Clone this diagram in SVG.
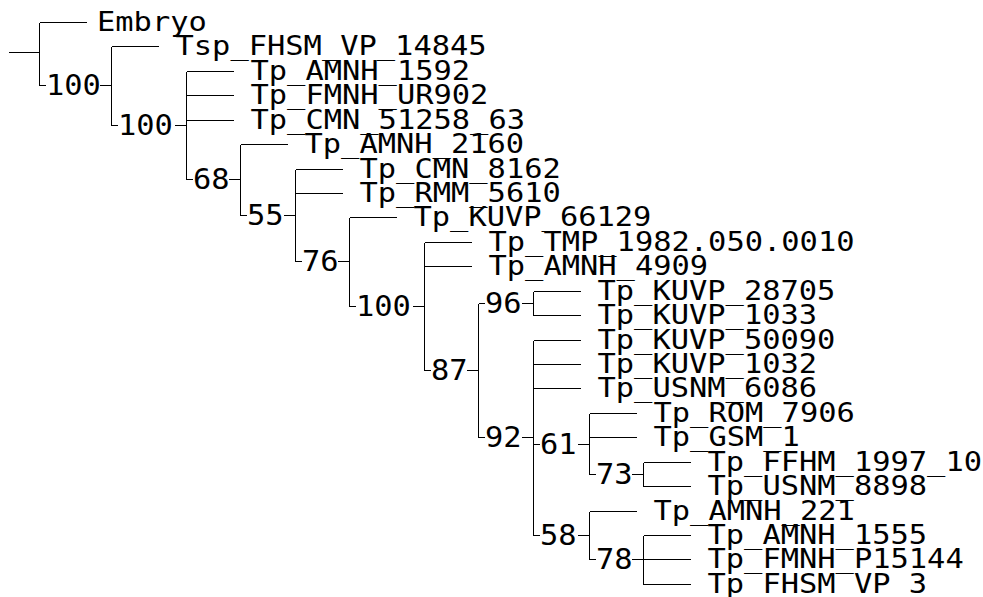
<svg xmlns="http://www.w3.org/2000/svg" width="983" height="597" viewBox="0 0 983 597">
<style>
  .bg { fill: #ffffff; }
  .edges path { stroke: #000000; stroke-width: 1; fill: none; shape-rendering: crispEdges; }
  .leaf { font-family: "DejaVu Sans Mono", "Liberation Mono", monospace; font-size: 26px; fill: #000000; }
  .bs { font-family: "DejaVu Sans Mono", "Liberation Mono", monospace; font-size: 29px; fill: #000000; }
</style>
<rect class="bg" x="0" y="0" width="983" height="597"/>

<g id="connectors" class="edges">
  <!-- root -->
  <path d="M9,52.5 H39.5 M39.5,22.5 V85.5"/>
  <!-- verticals -->
  <path d="M111.5,46.5 V125.5 M186.5,71.5 V179.5 M240.5,144.5 V215.5 M295.5,169.5 V261.5 M349.5,217.5 V306.5 M424.5,242.5 V370.5 M478.5,303.5 V437.5 M533.5,291.5 V315.5 M533.5,340.5 V535.5 M589.5,413.5 V474.5 M589.5,511.5 V559.5 M643.5,462.5 V486.5 M643.5,535.5 V584.5"/>
  <!-- internal branch ticks (before and after support labels) -->
  <path d="M39.5,85.5 H45.5 M99.5,85.5 H111.5
           M111.5,125.5 H117.5 M174.5,125.5 H186.5
           M186.5,179.5 H192.5 M228.5,179.5 H240.5
           M240.5,215.5 H246.5 M283.5,215.5 H295.5
           M295.5,261.5 H301.5 M337.5,261.5 H349.5
           M349.5,306.5 H355.5 M412.5,306.5 H424.5
           M424.5,370.5 H430.5 M466.5,370.5 H478.5
           M478.5,303.5 H484.5 M521.5,303.5 H533.5
           M478.5,437.5 H484.5 M521.5,437.5 H533.5
           M533.5,444.5 H539.5 M577.5,444.5 H589.5
           M533.5,535.5 H539.5 M577.5,535.5 H589.5
           M589.5,474.5 H595.5 M631.5,474.5 H643.5
           M589.5,559.5 H595.5 M631.5,559.5 H643.5"/>
  <!-- leaf branches -->
  <path d="M39.5,22.5 H86.5
           M111.5,46.5 H158.5
           M186.5,71.5 H233.5 M186.5,95.5 H233.5 M186.5,120.5 H233.5
           M240.5,144.5 H287.5
           M295.5,169.5 H342.5 M295.5,193.5 H342.5
           M349.5,217.5 H396.5
           M424.5,242.5 H471.5 M424.5,266.5 H471.5
           M533.5,291.5 H580.5 M533.5,315.5 H580.5
           M533.5,340.5 H580.5 M533.5,364.5 H580.5 M533.5,388.5 H580.5
           M589.5,413.5 H636.5 M589.5,437.5 H636.5
           M643.5,462.5 H690.5 M643.5,486.5 H690.5
           M589.5,511.5 H636.5
           M643.5,535.5 H690.5 M643.5,559.5 H690.5 M643.5,584.5 H690.5"/>
</g>

<!-- leaf nodes -->
<g id="leaf-embryo"><text class="leaf" x="97" y="30.5" textLength="109.8" lengthAdjust="spacingAndGlyphs">Embryo</text></g>
<g id="leaf-tsp-fhsm-vp-14845"><text class="leaf" x="175.5" y="54.5" textLength="311.1" lengthAdjust="spacingAndGlyphs">Tsp_FHSM_VP_14845</text></g>
<g id="leaf-amnh-1592"><text class="leaf" x="250.5" y="79.5" textLength="219.6" lengthAdjust="spacingAndGlyphs">Tp_AMNH_1592</text></g>
<g id="leaf-fmnh-ur902"><text class="leaf" x="250.5" y="103.5" textLength="237.9" lengthAdjust="spacingAndGlyphs">Tp_FMNH_UR902</text></g>
<g id="leaf-cmn-51258-63"><text class="leaf" x="250.5" y="128.5" textLength="274.5" lengthAdjust="spacingAndGlyphs">Tp_CMN_51258_63</text></g>
<g id="leaf-amnh-2160"><text class="leaf" x="304.5" y="152.5" textLength="219.6" lengthAdjust="spacingAndGlyphs">Tp_AMNH_2160</text></g>
<g id="leaf-cmn-8162"><text class="leaf" x="359.5" y="177.5" textLength="201.3" lengthAdjust="spacingAndGlyphs">Tp_CMN_8162</text></g>
<g id="leaf-rmm-5610"><text class="leaf" x="359.5" y="201.5" textLength="201.3" lengthAdjust="spacingAndGlyphs">Tp_RMM_5610</text></g>
<g id="leaf-kuvp-66129"><text class="leaf" x="413.5" y="225.5" textLength="237.9" lengthAdjust="spacingAndGlyphs">Tp_KUVP_66129</text></g>
<g id="leaf-tmp-1982-050-0010"><text class="leaf" x="488.5" y="250.5" textLength="366" lengthAdjust="spacingAndGlyphs">Tp_TMP_1982.050.0010</text></g>
<g id="leaf-amnh-4909"><text class="leaf" x="488.5" y="274.5" textLength="219.6" lengthAdjust="spacingAndGlyphs">Tp_AMNH_4909</text></g>
<g id="leaf-kuvp-28705"><text class="leaf" x="597.5" y="299.5" textLength="237.9" lengthAdjust="spacingAndGlyphs">Tp_KUVP_28705</text></g>
<g id="leaf-kuvp-1033"><text class="leaf" x="597.5" y="323.5" textLength="219.6" lengthAdjust="spacingAndGlyphs">Tp_KUVP_1033</text></g>
<g id="leaf-kuvp-50090"><text class="leaf" x="597.5" y="348.5" textLength="237.9" lengthAdjust="spacingAndGlyphs">Tp_KUVP_50090</text></g>
<g id="leaf-kuvp-1032"><text class="leaf" x="597.5" y="372.5" textLength="219.6" lengthAdjust="spacingAndGlyphs">Tp_KUVP_1032</text></g>
<g id="leaf-usnm-6086"><text class="leaf" x="597.5" y="396.5" textLength="219.6" lengthAdjust="spacingAndGlyphs">Tp_USNM_6086</text></g>
<g id="leaf-rom-7906"><text class="leaf" x="653.5" y="421.5" textLength="201.3" lengthAdjust="spacingAndGlyphs">Tp_ROM_7906</text></g>
<g id="leaf-gsm-1"><text class="leaf" x="653.5" y="445.5" textLength="146.4" lengthAdjust="spacingAndGlyphs">Tp_GSM_1</text></g>
<g id="leaf-ffhm-1997-10"><text class="leaf" x="707.5" y="470.5" textLength="274.5" lengthAdjust="spacingAndGlyphs">Tp_FFHM_1997_10</text></g>
<g id="leaf-usnm-8898"><text class="leaf" x="707.5" y="494.5" textLength="219.6" lengthAdjust="spacingAndGlyphs">Tp_USNM_8898</text></g>
<g id="leaf-amnh-221"><text class="leaf" x="653.5" y="519.5" textLength="201.3" lengthAdjust="spacingAndGlyphs">Tp_AMNH_221</text></g>
<g id="leaf-amnh-1555"><text class="leaf" x="707.5" y="543.5" textLength="219.6" lengthAdjust="spacingAndGlyphs">Tp_AMNH_1555</text></g>
<g id="leaf-fmnh-p15144"><text class="leaf" x="707.5" y="567.5" textLength="256.2" lengthAdjust="spacingAndGlyphs">Tp_FMNH_P15144</text></g>
<g id="leaf-fhsm-vp-3"><text class="leaf" x="707.5" y="592.5" textLength="219.6" lengthAdjust="spacingAndGlyphs">Tp_FHSM_VP_3</text></g>

<!-- internal nodes (support values) -->
<g id="node-1"><text class="bs" x="46" y="95" textLength="54.9" lengthAdjust="spacingAndGlyphs">100</text></g>
<g id="node-2"><text class="bs" x="118" y="135" textLength="54.9" lengthAdjust="spacingAndGlyphs">100</text></g>
<g id="node-3"><text class="bs" x="193" y="189" textLength="36.6" lengthAdjust="spacingAndGlyphs">68</text></g>
<g id="node-4"><text class="bs" x="247" y="225" textLength="36.6" lengthAdjust="spacingAndGlyphs">55</text></g>
<g id="node-5"><text class="bs" x="302" y="271" textLength="36.6" lengthAdjust="spacingAndGlyphs">76</text></g>
<g id="node-6"><text class="bs" x="356" y="316" textLength="54.9" lengthAdjust="spacingAndGlyphs">100</text></g>
<g id="node-7"><text class="bs" x="431" y="380" textLength="36.6" lengthAdjust="spacingAndGlyphs">87</text></g>
<g id="node-8"><text class="bs" x="485" y="313" textLength="36.6" lengthAdjust="spacingAndGlyphs">96</text></g>
<g id="node-9"><text class="bs" x="485" y="447" textLength="36.6" lengthAdjust="spacingAndGlyphs">92</text></g>
<g id="node-10"><text class="bs" x="540" y="454" textLength="36.6" lengthAdjust="spacingAndGlyphs">61</text></g>
<g id="node-11"><text class="bs" x="540" y="545" textLength="36.6" lengthAdjust="spacingAndGlyphs">58</text></g>
<g id="node-12"><text class="bs" x="596" y="484" textLength="36.6" lengthAdjust="spacingAndGlyphs">73</text></g>
<g id="node-13"><text class="bs" x="596" y="569" textLength="36.6" lengthAdjust="spacingAndGlyphs">78</text></g>
</svg>
